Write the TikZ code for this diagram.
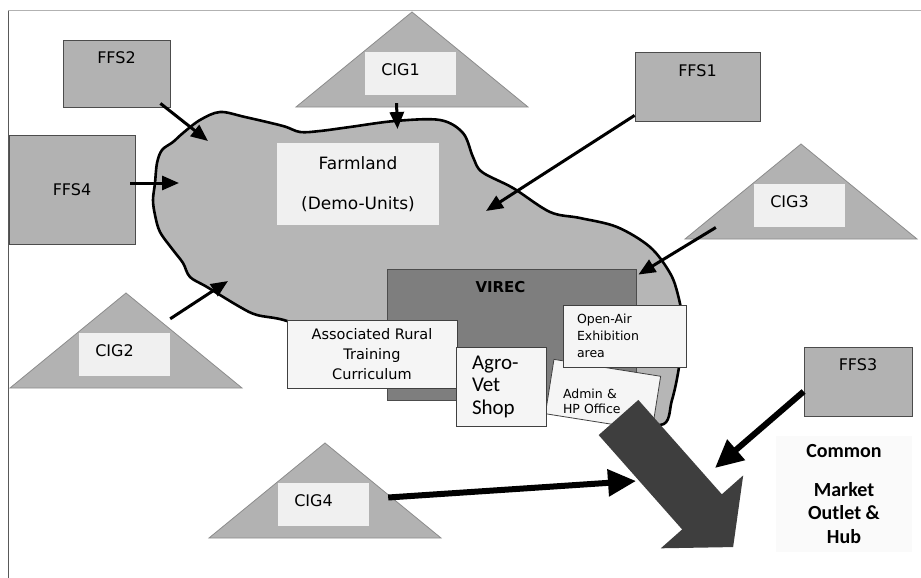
\documentclass[tikz,border=0pt]{standalone}
\usepackage{fontspec}
\setmainfont{DejaVu Sans}
\newfontfamily\calfont{Carlito}
\usetikzlibrary{arrows.meta}
\definecolor{boxgray}{RGB}{178,178,178}
\definecolor{farmgray}{RGB}{182,182,182}
\definecolor{virecgray}{RGB}{126,126,126}
\definecolor{paper}{RGB}{240,240,240}
\definecolor{darkarrow}{RGB}{62,62,62}
\tikzset{
  lbl/.style={inner sep=0pt, font=\fontsize{16}{18}\selectfont},
  ffsbox/.style={draw=black!70, fill=boxgray, line width=0.8pt, inner sep=0pt},
  cigtri/.style={draw=black!45, fill=boxgray, line width=0.8pt},
  cigbox/.style={fill=paper, inner sep=0pt, minimum width=91pt, minimum height=43pt},
  whitebox/.style={draw=black!75, fill=white!96!black, line width=0.8pt, inner sep=0pt},
  farm/.style={draw=black, fill=farmgray, line width=2.6pt},
  flow/.style={line width=3pt, -{Triangle[length=17pt,width=14pt]}},
  bigflow/.style={line width=6pt, -{Triangle[length=28pt,width=26pt]}}
}
\begin{document}
\begin{tikzpicture}[x=1pt, y=-1pt]
  \useasboundingbox (0,0) rectangle (921,578);
  \draw[gray!60, line width=1pt] (8,11) -- (921,11);
  \draw[black!65, line width=1pt] (8,11) -- (8,578);

  \foreach \n/\x/\y in {1/412/12, 2/126/293, 3/801/144, 4/325/443} {
    \draw[cigtri] (\x,\y) -- ++(116,95) -- ++(-232,0) -- cycle;
    \node[cigbox] (cig\n) at (\x-1.5,\y+61.5) {};
    \node[lbl] (cig\n txt) at ([xshift=-10pt,yshift=4pt]cig\n.center) {CIG\n};
  }

  \node[ffsbox, minimum width=107pt, minimum height=67pt,
        label={[lbl, below=12pt]north:FFS2}] (ffs2) at (116.5,73.5) {};
  \node[ffsbox, minimum width=126pt, minimum height=109pt, font=\fontsize{16}{18}\selectfont] (ffs4) at (72,189.5) {FFS4};
  \node[ffsbox, minimum width=125pt, minimum height=69pt,
        label={[lbl, below=13pt]north:FFS1}] (ffs1) at (697.5,86.5) {};
  \node[ffsbox, minimum width=108pt, minimum height=69pt,
        label={[lbl, below=12pt]north:FFS3}] (ffs3) at (858,381.5) {};

  \draw[farm] plot[smooth cycle, tension=0.55] coordinates {
    (183,133) (200,120) (220,112) (245,117) (283,126) (300,132) (320,131)
    (350,127) (395,121) (440,120) (463,133) (473,157) (482,172) (513,188)
    (550,212) (580,218) (617,227) (650,247) (670,273) (678,295) (682,320)
    (680,360) (672,400) (660,425) (600,405) (500,395) (420,385) (330,340)
    (287,321) (257,315) (240,307) (207,287) (190,277) (183,263) (173,250)
    (160,232) (155,215) (153,200) (155,183) (157,163) (162,150) (173,142)};

  \node[fill=paper, inner sep=0pt, minimum width=162pt, minimum height=82pt, align=center,
        font=\fontsize{17}{20}\selectfont] (farmland) at (358,184) {Farmland\\[20pt](Demo-Units)};

  \node[draw=black!70, fill=virecgray, line width=0.8pt, minimum width=249pt, minimum height=131pt,
        label={[lbl, below=13pt, xshift=-11pt, font=\fontsize{15}{18}\selectfont\bfseries]north:VIREC}] (virec) at (511.5,334.5) {};
  \node[whitebox, minimum width=170pt, minimum height=68pt, align=center,
        font=\fontsize{14.5}{20}\selectfont] (training) at (372,354) {Associated Rural\\Training\\Curriculum};
  \node[whitebox, rotate=-9, minimum width=108pt, minimum height=55pt] (admin) at (603,395) {};
  \node[inner sep=0pt, text width=62pt, align=left, font=\fontsize{12.5}{15}\selectfont] (admintxt) at (594,401) {Admin \&\\HP Office};
  \node[whitebox, minimum width=123pt, minimum height=62pt, text width=95pt, align=left,
        font=\fontsize{12.5}{17}\selectfont] (openair) at (624.5,336) {Open-Air\\Exhibition\\area};
  \node[whitebox, minimum width=90pt, minimum height=79pt, text width=58pt, align=left,
        font=\calfont\fontsize{21}{22.5}\selectfont] (agrovet) at (501,386.5) {Agro-\\Vet\\Shop};

  \fill[darkarrow, shift={(618.5,417.5)}, rotate=-48.5]
    (0,-26.5) -- (126,-26.5) -- (126,-55) -- (173,0) -- (126,55) -- (126,26.5) -- (0,26.5) -- cycle;

  \node[fill=white!98!black, minimum width=136pt, minimum height=116pt, align=center,
        font=\calfont\bfseries\fontsize{20}{23.5}\selectfont] (market) at (844,494) {Common\\[15pt]Market\\Outlet \&\\Hub};

  \coordinate (farmnw) at (208,141);
  \coordinate (farmw) at (179,183);
  \coordinate (farmn) at (397.5,129);
  \coordinate (farmne) at (486,211);
  \coordinate (farmsw) at (228,281);
  \coordinate (hubw) at (636,481);
  \coordinate (hubne) at (715,468);

  \draw[flow] ([xshift=-10pt,yshift=4pt]ffs2.south east) -- (farmnw);
  \draw[flow] ([xshift=-5pt,yshift=6.5pt]ffs4.east) -- (farmw);
  \draw[flow] ([xshift=-14pt,yshift=-8pt]cig1.south) -- (farmn);
  \draw[flow] ([yshift=6pt]ffs1.south west) -- (farmne);
  \draw[flow] ([xshift=-38pt,yshift=-22pt]cig3.west) -- ([xshift=2pt,yshift=-6pt]virec.north east);
  \draw[flow] ([yshift=14pt]cig2.north east) -- (farmsw);
  \draw[bigflow] ([xshift=19pt,yshift=7pt]cig4.east) -- (hubw);
  \draw[bigflow] ([yshift=-10pt]ffs3.west) -- (hubne);
\end{tikzpicture}
\end{document}
